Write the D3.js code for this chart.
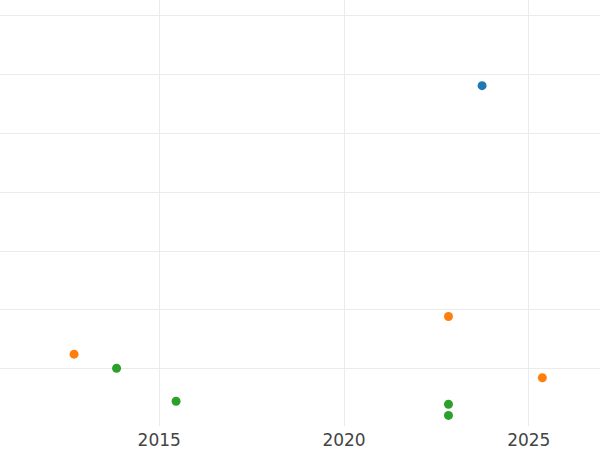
<!DOCTYPE html>
<html>
<head>
<meta charset="utf-8">
<script src="https://cdn.jsdelivr.net/npm/d3@7"></script>
<style>
  body { margin: 0; background: #fff; }
  #chart { width: 600px; height: 450px; }
  .grid line { stroke: #ebebeb; stroke-width: 1; shape-rendering: crispEdges; }
  .grid .domain { display: none; }
  .axis--x text { fill: #444; font-family: "DejaVu Sans", sans-serif; font-size: 17px; }
  .axis--x line, .axis--x .domain { display: none; }
</style>
</head>
<body>
<div id="chart"></div>
<script>
// values (x = year, y = unlabeled value)
var xTicks = [2015, 2020, 2025];
var yTicks = [1, 2, 3, 4, 5, 6, 7];

var blueX = [2023.75];
var blueY = [5.80];

var orangeX = [2012.71, 2022.84, 2025.38];
var orangeY = [1.24, 1.88, 0.84];

var greenX = [2013.86, 2015.47, 2022.84, 2022.84];
var greenY = [1.00, 0.44, 0.39, 0.20];

var series = [
    { name: "blue", color: "#1f77b4", xs: blueX, ys: blueY },
    { name: "orange", color: "#ff7f0e", xs: orangeX, ys: orangeY },
    { name: "green", color: "#2ca02c", xs: greenX, ys: greenY }
];

var width = 600, height = 450;
var plotBottom = 426;

var svg = d3.select("#chart")
    .append("svg")
    .attr("width", width)
    .attr("height", height);

var xScale = d3.scaleLinear().domain([2010.706, 2026.94]).range([0, width]);
var yScale = d3.scaleLinear().domain([0.02, 7.255]).range([plotBottom, 0]);

// grid lines
svg.append("g")
    .attr("class", "grid")
    .attr("transform", "translate(0," + plotBottom + ")")
    .call(d3.axisBottom(xScale).tickValues(xTicks).tickSize(-plotBottom).tickFormat(""));

svg.append("g")
    .attr("class", "grid")
    .call(d3.axisLeft(yScale).tickValues(yTicks).tickSize(-width).tickFormat(""));

// x labels
svg.append("g")
    .attr("class", "axis axis--x")
    .attr("transform", "translate(0," + plotBottom + ")")
    .call(d3.axisBottom(xScale).tickValues(xTicks).tickSize(0).tickPadding(8).tickFormat(d3.format("d")));

// points
series.forEach(function(s) {
    var pts = s.xs.map(function(x, i) { return [x, s.ys[i]]; });
    svg.append("g")
        .selectAll("circle")
        .data(pts)
        .enter().append("circle")
        .attr("cx", function(d) { return xScale(d[0]); })
        .attr("cy", function(d) { return yScale(d[1]); })
        .attr("r", 4.5)
        .attr("fill", s.color);
});
</script>
</body>
</html>
